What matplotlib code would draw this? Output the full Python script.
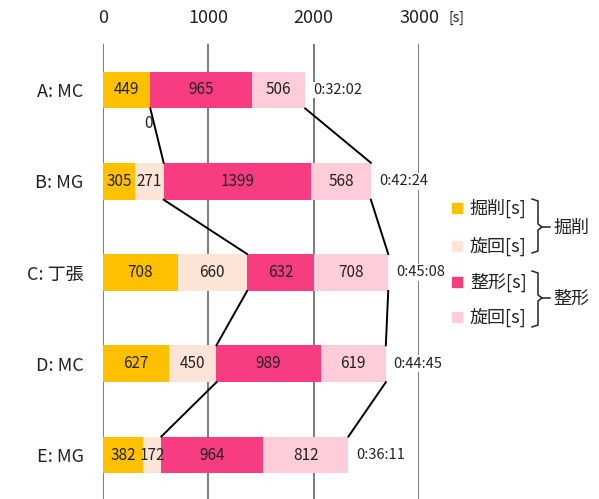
import matplotlib.pyplot as plt
from matplotlib.lines import Line2D
from matplotlib.patches import Rectangle

plt.rcParams['font.family'] = ['Noto Sans CJK JP', 'DejaVu Sans']

# 作業時間 [s]
labels = ['A: MC', 'B: MG', 'C: 丁張', 'D: MC', 'E: MG']
dig = [449, 305, 708, 627, 382]        # 掘削
swing1 = [0, 271, 660, 450, 172]       # 旋回 (掘削)
shape = [965, 1399, 632, 989, 964]     # 整形
swing2 = [506, 568, 708, 619, 812]     # 旋回 (整形)
totals = ['0:32:02', '0:42:24', '0:45:08', '0:44:45', '0:36:11']

legend_names = ['掘削[s]', '旋回[s]', '整形[s]', '旋回[s]']
colors = ['#FFC000', '#FCE4D6', '#F73C82', '#FFCCD9']

W, H = 599, 499
fig = plt.figure(figsize=(W/100, H/100), dpi=100)
# 0 -> x=103px, 3000 -> x=419px, top of plot area at y=44px
ax = fig.add_axes([103/W, 0, 316/W, (H-44)/H])

def px(x, y):
    return x/W, (H-y)/H

h = 0.405
ys = list(range(len(labels)))
series = [dig, swing1, shape, swing2]

left = [0]*len(labels)
for vals, c in zip(series, colors):
    ax.barh(ys, vals, left=left, height=h, color=c, zorder=3)
    for i, v in enumerate(vals):
        if v > 0:
            ax.text(left[i] + v/2, i, str(v), ha='center', va='center',
                    fontsize=11, color='#222222', zorder=5)
    left = [l + v for l, v in zip(left, vals)]

# A は掘削時の旋回が 0
ax.text(dig[0] - 20, 0 + h/2 + 0.17, '0', ha='center', va='center',
        fontsize=11, color='#222222', zorder=5)

# 掘削と整形の境界、合計をつなぐ線
dig_end = [d + s for d, s in zip(dig, swing1)]
for i in range(len(labels) - 1):
    ax.plot([dig_end[i], dig_end[i+1]], [i + h/2, i + 1 - h/2],
            color='black', lw=1.4, zorder=4)
    ax.plot([left[i], left[i+1]], [i + h/2, i + 1 - h/2],
            color='black', lw=1.4, zorder=4)

for i, t in enumerate(totals):
    ax.text(left[i] + 75, i, t, ha='left', va='center', fontsize=10.5,
            color='#222222', zorder=6, clip_on=False,
            bbox=dict(facecolor='white', edgecolor='none', pad=1))

for x in [0, 1000, 2000, 3000]:
    ax.axvline(x, color='#595959', lw=1.1, zorder=1)

ax.set_xlim(0, 3000)
ax.set_ylim(4 + 44/91.25, -46/91.25)
ax.xaxis.tick_top()
ax.set_xticks([0, 1000, 2000, 3000])
ax.tick_params(axis='x', length=0, pad=12, labelsize=13, colors='#222222')
ax.set_yticks(ys)
ax.set_yticklabels(labels)
ax.tick_params(axis='y', length=0, pad=14, labelsize=13, colors='#222222')
for s in ax.spines.values():
    s.set_visible(False)

fig.text(*px(448, 18), '[s]', fontsize=10, va='center', ha='left', color='#222222')

# 凡例
leg_y = [208, 246, 282, 317]
for name, c, y in zip(legend_names, colors, leg_y):
    x0, y0 = px(452, y + 5)
    fig.patches.append(Rectangle((x0, y0), 10/W, 10/H, color=c,
                                 transform=fig.transFigure, figure=fig))
    fig.text(*px(470, y), name, fontsize=13, va='center', ha='left', color='#222222')

def brace(top, bottom, mid, text):
    pts = [(532, top), (538, top + 2), (538, mid - 3), (542, mid),
           (538, mid + 3), (538, bottom - 2), (532, bottom)]
    xs, yy = zip(*[px(a, b) for a, b in pts])
    fig.lines.append(Line2D(xs, yy, color='#222222', lw=1.1,
                            transform=fig.transFigure, figure=fig))
    xs, yy = zip(px(542, mid), px(550, mid))
    fig.lines.append(Line2D(xs, yy, color='#222222', lw=1.1,
                            transform=fig.transFigure, figure=fig))
    fig.text(*px(553, mid + 1), text, fontsize=13, va='center', ha='left', color='#222222')

brace(199, 253, 227, '掘削')
brace(271, 327, 298, '整形')

fig.savefig('out.png', dpi=100)
